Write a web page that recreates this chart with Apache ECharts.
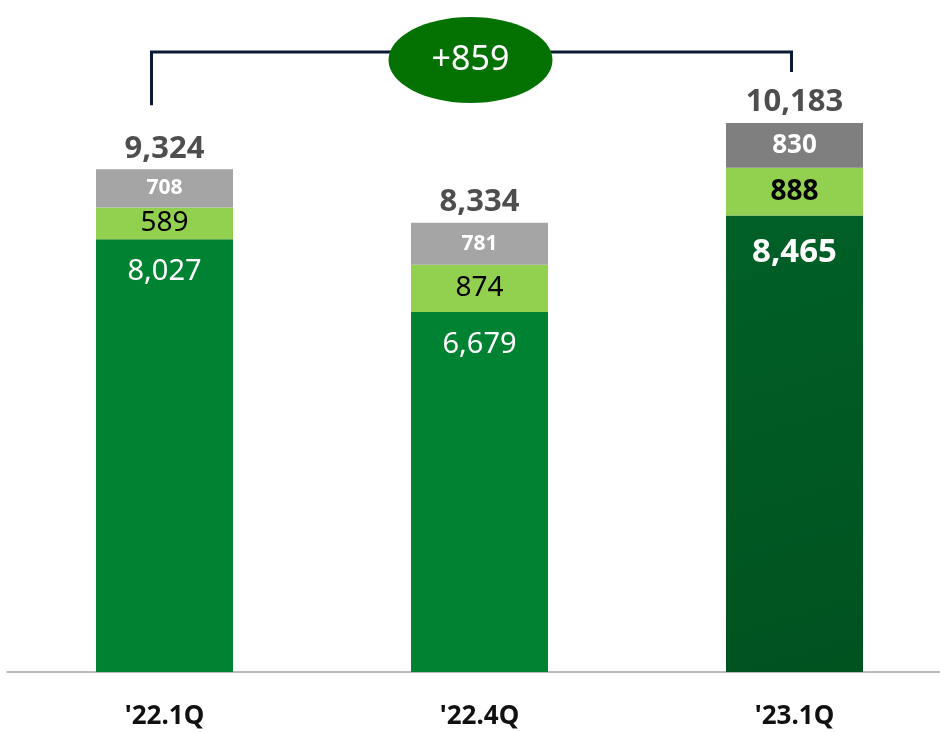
<!DOCTYPE html>
<html>
<head>
<meta charset="utf-8">
<script src="https://cdn.jsdelivr.net/npm/echarts@6/dist/echarts.min.js"></script>
<style>
  html, body { margin: 0; padding: 0; background: #ffffff; overflow: hidden; }
  #chart { width: 952px; height: 732px; }
</style>
</head>
<body>
<div id="chart"></div>
<script>
// Quarterly breakdown, stacked from the base segment upward
const quarters = ["'22.1Q", "'22.4Q", "'23.1Q"];
const baseValues = [8027, 6679, 8465];
const midValues = [589, 874, 888];
const topValues = [708, 781, 830];
const totals = [9324, 8334, 10183];
const changeLabel = '+859';

const FONT = '"Noto Sans", "Open Sans", sans-serif';
const fmt = v => v.toLocaleString('en-US');

const chart = echarts.init(document.getElementById('chart'), null, { renderer: 'canvas' });

const last = quarters.length - 1;

const baseData = baseValues.map((v, i) => i === last ? {
  value: v,
  itemStyle: {
    color: new echarts.graphic.LinearGradient(0, 0, 1, 1, [
      { offset: 0, color: '#006027' },
      { offset: 1, color: '#00521f' }
    ])
  },
  label: { fontWeight: 'bold', fontSize: 33, distance: 20 }
} : v);

const midData = midValues.map((v, i) => i === last ? {
  value: v,
  label: { fontWeight: 'bold' }
} : v);

const topData = topValues.map((v, i) => i === last ? {
  value: v,
  itemStyle: { color: '#7f7f7f' },
  label: { fontSize: 26 }
} : v);

const option = {
  animation: false,
  grid: { left: 7, right: 0, top: 25, bottom: 60, containLabel: false },
  xAxis: {
    type: 'category',
    data: quarters,
    axisLine: { show: true, lineStyle: { color: '#a6a6a6', width: 1.5 } },
    axisTick: { show: false },
    axisLabel: {
      color: '#111111',
      fontFamily: FONT,
      fontWeight: 'bold',
      fontSize: 26,
      margin: 32
    }
  },
  yAxis: {
    type: 'value',
    min: 0,
    max: 12000,
    show: false,
    splitLine: { show: false }
  },
  series: [
    {
      name: 'base',
      type: 'bar',
      stack: 'total',
      barWidth: 137,
      itemStyle: { color: '#008233' },
      label: {
        show: true,
        position: 'insideTop',
        distance: 18,
        color: '#ffffff',
        fontFamily: FONT,
        fontSize: 29,
        formatter: p => fmt(p.value)
      },
      data: baseData
    },
    {
      name: 'mid',
      type: 'bar',
      stack: 'total',
      itemStyle: { color: '#92d050' },
      label: {
        show: true,
        position: 'inside',
        color: '#000000',
        fontFamily: FONT,
        fontSize: 28,
        formatter: p => fmt(p.value)
      },
      data: midData
    },
    {
      name: 'top',
      type: 'bar',
      stack: 'total',
      itemStyle: { color: '#a5a5a5' },
      label: {
        show: true,
        position: 'inside',
        color: '#ffffff',
        fontFamily: FONT,
        fontWeight: 'bold',
        fontSize: 21,
        formatter: p => fmt(p.value)
      },
      data: topData
    },
    {
      name: 'total',
      type: 'scatter',
      symbolSize: 0,
      silent: true,
      label: {
        show: true,
        position: 'top',
        distance: 5,
        color: '#222222',
        fontFamily: FONT,
        fontWeight: 'bold',
        fontSize: 31,
        formatter: p => fmt(p.value[1])
      },
      data: totals.map((v, i) => [i, v])
    }
  ]
};

chart.setOption(option);

// Bracket linking the first and last quarter totals, with the change badge
const pFirst = chart.convertToPixel({ seriesIndex: 3 }, [0, totals[0]]);
const pLast = chart.convertToPixel({ seriesIndex: 3 }, [last, totals[last]]);
const xL = pFirst[0] - 13;
const xR = pLast[0] - 3;
const yBar = 52;
const yLegL = pFirst[1] - 64;
const yLegR = pLast[1] - 51;
const cx = (xL + xR) / 2 - 1;
const cy = 60;

chart.setOption({
  graphic: [
    {
      type: 'polyline',
      shape: { points: [[xL, yLegL], [xL, yBar], [xR, yBar], [xR, yLegR]] },
      style: { stroke: '#0b1a33', lineWidth: 3, fill: null },
      z: 10
    },
    {
      type: 'ellipse',
      shape: { cx: cx, cy: cy, rx: 82, ry: 43 },
      style: { fill: '#037203' },
      z: 11
    },
    {
      type: 'text',
      x: cx,
      y: cy,
      style: {
        text: changeLabel,
        fill: '#ffffff',
        font: '34px ' + FONT,
        textAlign: 'center',
        textVerticalAlign: 'middle'
      },
      z: 12
    }
  ]
});
</script>
</body>
</html>
